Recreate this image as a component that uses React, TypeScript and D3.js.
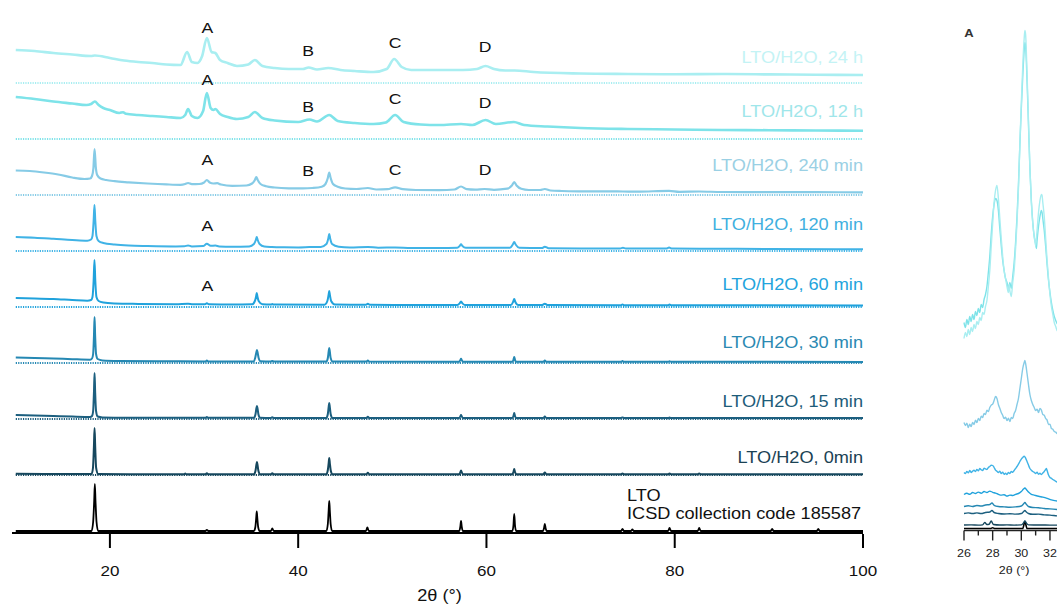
import React from 'react';
import * as d3 from 'd3';

type Pt = [number, number];

// ---------- axis ticks ----------
const xTicks = [20, 40, 60, 80, 100];
const insetTicks = [26, 27, 28, 29, 30, 31, 32, 33];
const insetTickLabels = [26, 28, 30, 32];

// ---------- sample names (bottom to top) ----------
const sampleNames = [
  'LTO',
  'LTO/H2O, 0min',
  'LTO/H2O, 15 min',
  'LTO/H2O, 30 min',
  'LTO/H2O, 60 min',
  'LTO/H2O, 120 min',
  'LTO/H2O, 240 min',
  'LTO/H2O, 12 h',
  'LTO/H2O, 24 h',
];
const refNote = 'ICSD collection code 185587';

// ---------- diffraction patterns: [2θ, intensity above own baseline] ----------
const ltoRef: Pt[] = [
  [10, 0], [18.05, 0], [18.22, 9], [18.33, 30], [18.4, 47], [18.47, 30], [18.58, 9], [18.75, 0],
  [30.15, 0], [30.3, 1.2], [30.45, 0],
  [35.3, 0], [35.45, 4], [35.54, 13], [35.6, 19.5], [35.66, 13], [35.75, 4], [35.9, 0],
  [37.1, 0], [37.25, 2.5], [37.4, 0],
  [43.0, 0], [43.15, 7], [43.24, 21], [43.3, 30], [43.36, 21], [43.45, 7], [43.6, 0],
  [47.2, 0], [47.35, 3.5], [47.5, 0],
  [57.1, 0], [57.22, 4], [57.3, 10], [57.38, 4], [57.5, 0],
  [62.75, 0], [62.87, 6], [62.95, 17], [63.03, 6], [63.15, 0],
  [66.0, 0], [66.12, 3], [66.2, 7], [66.28, 3], [66.4, 0],
  [74.3, 0], [74.45, 2], [74.6, 0],
  [75.35, 0], [75.5, 1.5], [75.65, 0],
  [79.3, 0], [79.45, 3], [79.6, 0],
  [82.45, 0], [82.6, 3], [82.75, 0],
  [90.2, 0], [90.35, 2], [90.5, 0],
  [95.1, 0], [95.25, 2], [95.4, 0],
  [100, 0],
];

const min0: Pt[] = [
  [10, 1.2], [13, 1], [16, 0.9], [18.05, 0.9], [18.2, 7], [18.3, 28], [18.37, 47], [18.44, 28], [18.54, 7], [18.75, 1],
  [22, 0.8], [27.9, 0.8], [28.0, 1.4], [28.1, 0.8], [30.15, 0.8], [30.3, 1.8], [30.45, 0.8],
  [35.3, 0.8], [35.46, 4], [35.55, 9.5], [35.62, 13], [35.69, 9.5], [35.78, 4], [35.95, 0.8],
  [37.1, 0.8], [37.25, 1.8], [37.4, 0.8],
  [43.0, 0.8], [43.15, 5], [43.24, 12], [43.3, 17], [43.36, 12], [43.45, 5], [43.62, 0.8],
  [47.25, 0.8], [47.4, 2.2], [47.55, 0.8],
  [57.1, 0.8], [57.22, 2.5], [57.3, 4.5], [57.38, 2.5], [57.5, 0.8],
  [62.75, 0.8], [62.87, 3], [62.95, 6], [63.03, 3], [63.15, 0.8],
  [66.05, 0.8], [66.2, 2.6], [66.35, 0.8],
  [74.3, 0.8], [74.45, 1.5], [74.6, 0.8],
  [79.3, 0.8], [79.45, 1.6], [79.6, 0.8],
  [82.45, 0.8], [82.6, 1.6], [82.75, 0.8],
  [100, 0.8],
];

const min15: Pt[] = [
  [10, 4], [12, 3.6], [14, 3], [16, 2.4], [17.9, 2], [18.1, 3], [18.22, 8], [18.31, 28], [18.37, 46], [18.43, 28], [18.53, 8], [18.7, 2.5],
  [19.2, 1.6], [22, 1.3], [28, 1.2], [30.15, 1.2], [30.3, 2], [30.45, 1.2],
  [35.3, 1.2], [35.46, 4.5], [35.55, 10], [35.62, 13], [35.69, 10], [35.78, 4.5], [35.95, 1.3],
  [37.1, 1.1], [37.25, 1.8], [37.4, 1.1],
  [43.0, 1.1], [43.15, 5], [43.24, 12], [43.3, 16], [43.36, 12], [43.45, 5], [43.62, 1.1],
  [47.25, 1], [47.4, 2.3], [47.55, 1],
  [57.1, 1], [57.22, 2.5], [57.3, 4], [57.38, 2.5], [57.5, 1],
  [62.75, 1], [62.87, 3], [62.95, 6], [63.03, 3], [63.15, 1],
  [66.05, 1], [66.2, 2.4], [66.35, 1],
  [74.3, 1], [74.45, 1.6], [74.6, 1],
  [79.3, 0.9], [79.45, 1.5], [79.6, 0.9],
  [100, 0.9],
];

const min30: Pt[] = [
  [10, 5.5], [12, 5], [14, 4.5], [16, 3.8], [17.9, 3.3], [18.1, 4.5], [18.22, 9], [18.31, 28], [18.37, 46], [18.43, 28], [18.53, 9], [18.7, 4],
  [19.2, 2.6], [21, 2], [25, 1.7], [30.15, 1.6], [30.3, 2.4], [30.45, 1.6],
  [35.25, 1.6], [35.43, 5], [35.54, 10], [35.62, 13], [35.7, 10], [35.8, 5], [36.0, 1.7],
  [37.1, 1.5], [37.25, 2.1], [37.4, 1.5],
  [43.0, 1.5], [43.15, 5], [43.24, 11.5], [43.3, 15], [43.36, 11.5], [43.45, 5], [43.65, 1.5],
  [47.25, 1.4], [47.4, 2.6], [47.55, 1.4],
  [57.1, 1.3], [57.22, 2.8], [57.3, 4.3], [57.38, 2.8], [57.5, 1.3],
  [62.75, 1.3], [62.87, 3.2], [62.95, 6], [63.03, 3.2], [63.15, 1.3],
  [66.05, 1.3], [66.2, 2.6], [66.35, 1.3],
  [74.3, 1.2], [74.45, 2], [74.6, 1.2],
  [79.3, 1.2], [79.45, 1.8], [79.6, 1.2],
  [100, 1.1],
];

const min60: Pt[] = [
  [10, 9], [12, 8.6], [14, 8], [16, 7], [17.6, 6.3], [18.0, 7], [18.15, 10], [18.27, 26], [18.36, 47], [18.45, 26], [18.57, 10], [18.8, 6],
  [19.3, 4.5], [20.5, 3.6], [23, 3.1], [27, 2.8], [28.3, 3.2], [28.8, 2.8], [30.1, 2.8], [30.3, 3.8], [30.5, 2.8], [33, 2.5],
  [35.1, 2.7], [35.4, 6], [35.53, 10.5], [35.6, 14], [35.67, 10.5], [35.8, 6], [36.2, 2.8],
  [37.1, 2.4], [37.25, 3], [37.4, 2.4],
  [42.8, 2.3], [43.1, 6], [43.23, 12], [43.3, 16], [43.37, 12], [43.5, 6], [43.9, 2.6],
  [47.2, 2.2], [47.4, 3.3], [47.6, 2.2], [50.3, 2.1],
  [56.9, 2], [57.15, 3.6], [57.3, 5.5], [57.45, 3.6], [57.7, 2.1],
  [62.6, 2], [62.82, 4.8], [62.95, 8], [63.08, 4.8], [63.35, 2.1],
  [65.9, 1.9], [66.2, 3.3], [66.5, 1.9],
  [74.3, 1.8], [74.45, 2.6], [74.6, 1.8],
  [79.3, 1.8], [79.45, 2.4], [79.6, 1.8],
  [100, 1.6],
];

const min120: Pt[] = [
  [10, 14], [12, 13.3], [14, 12.2], [16, 11], [17.6, 10.3], [18.0, 11.5], [18.15, 15], [18.27, 30], [18.36, 46], [18.45, 30], [18.57, 15], [18.8, 10],
  [19.3, 8], [20.5, 6.5], [22, 5.5], [24, 5], [27, 4.6], [27.9, 4.7], [28.3, 5.6], [28.7, 4.6], [29.9, 5], [30.3, 7.2], [30.7, 5.2],
  [31.2, 5.4], [31.6, 4.6], [33, 4.2], [34.8, 4.6],
  [35.3, 7], [35.5, 11], [35.6, 14], [35.7, 11], [35.9, 7], [36.4, 4.5],
  [37.2, 4], [38.5, 3.7], [40, 3.6], [41.2, 3.9], [42.4, 4.1],
  [43.0, 7], [43.2, 12.5], [43.3, 17], [43.4, 12.5], [43.6, 7], [44.3, 4.3],
  [45.5, 3.5], [47.4, 4], [48.5, 3.3], [50.3, 3.6], [52, 3], [55, 3],
  [56.9, 3.2], [57.15, 5], [57.3, 6.7], [57.45, 5], [57.8, 3.2], [59.7, 3.3],
  [62.5, 3.3], [62.78, 6.2], [62.95, 9], [63.12, 6.2], [63.5, 3.2],
  [65.9, 2.9], [66.2, 4.3], [66.6, 2.8], [70, 2.6], [74.2, 2.6], [74.5, 3.2], [74.8, 2.6],
  [79.1, 2.4], [79.4, 3.4], [79.7, 2.4], [82.6, 2.3], [90, 2], [100, 1.8],
];

const min240: Pt[] = [
  [10, 24.5], [11.5, 24], [13, 22.5], [14.5, 20.5], [16, 17.5], [17.3, 16], [17.9, 16.5], [18.1, 19], [18.25, 27], [18.37, 46], [18.5, 28], [18.65, 20],
  [19, 16.5], [19.6, 15], [20.5, 13.8], [22, 12.7], [24, 11.5], [26, 10.6], [27.5, 10.2], [28.0, 11], [28.3, 12], [28.7, 10.8],
  [29.5, 11], [30.0, 12.5], [30.3, 15], [30.6, 12.5], [31.0, 11.5], [31.4, 11.8], [31.8, 10.5], [33, 9.2], [34.5, 9.5],
  [35.1, 11.5], [35.4, 15], [35.55, 18], [35.7, 15], [36.0, 11], [36.6, 8.8], [37.5, 7.5], [39, 6.7], [40.5, 6.6], [41.5, 7], [42.5, 8.3],
  [42.9, 11], [43.15, 17], [43.3, 22.5], [43.45, 17], [43.7, 11], [44.2, 8.3], [45, 6.5], [46.2, 6], [47.4, 7], [48.3, 5.5],
  [49.5, 5.8], [50.3, 7.7], [51.1, 5.8], [52.5, 5], [55, 4.8], [56.6, 5.5], [57.3, 8.5], [57.9, 5.8], [58.8, 5.3], [59.8, 6],
  [60.8, 5.2], [62.2, 6.3], [62.7, 9.5], [62.95, 13], [63.2, 9.5], [63.7, 6.2], [64.5, 5], [65.7, 5], [66.2, 6], [66.8, 4.5],
  [68, 4], [70, 3.7], [74.5, 3.5], [76, 3.3], [79.4, 4.2], [80.5, 3.2], [82.6, 3.5], [85, 3], [90, 2.9], [95, 2.8], [100, 2.7],
];

const h12: Pt[] = [
  [10, 42], [12, 40], [14, 37.5], [16, 35.5], [17.5, 34], [18.0, 35], [18.4, 37.5], [18.8, 34], [19.3, 31], [20, 29],
  [21.0, 26], [21.4, 26.8], [21.7, 25.2], [23, 24], [24.5, 23], [26, 22], [27.5, 21], [28.0, 24], [28.3, 30], [28.7, 23],
  [29.3, 21], [29.9, 28], [30.3, 46], [30.7, 31], [31.0, 29], [31.2, 30], [31.7, 25], [32.5, 22], [33.5, 20], [34.7, 22],
  [35.4, 27], [36.2, 21], [37.5, 18.5], [40, 17], [41.2, 19.5], [42, 17.5], [43.3, 24], [44.2, 18], [46, 16], [48, 15],
  [49.3, 16.5], [50.3, 24], [51.2, 17], [53, 14.5], [55, 14], [57.3, 15], [58.5, 14], [59.9, 19], [61, 15], [62.9, 17],
  [64, 14], [66.5, 12.5], [70, 11], [75, 10], [80, 9.5], [85, 9], [90, 8.8], [95, 8.5], [100, 8.3],
];

const h24: Pt[] = [
  [10, 33], [12, 32], [14, 30], [16, 28.5], [18, 27], [18.4, 27.5], [20, 25], [21.5, 22.5], [23, 21], [24.5, 20],
  [26, 18.5], [27.5, 18], [28.2, 31], [28.7, 21], [29.3, 20], [29.8, 27], [30.3, 45], [30.8, 31], [31.2, 30], [31.7, 23],
  [32.5, 20], [33.5, 17], [34.7, 18.5], [35.4, 23], [36.2, 17], [37.5, 15], [39, 14], [40.5, 14], [41.1, 15.5], [42, 13.5],
  [43.2, 15], [44.5, 13], [46, 12], [48, 11], [49.4, 14], [50.2, 24], [51, 16], [52, 13], [54, 13], [56, 13],
  [57.5, 13], [59, 14], [59.9, 17], [60.8, 14], [62, 12.5], [63, 12.5], [65, 11], [70, 9.5], [75, 9], [80, 8.7],
  [85, 9], [90, 8.6], [95, 8.3], [100, 8],
];

const patterns: Pt[][] = [ltoRef, min0, min15, min30, min60, min120, min240, h12, h24];

// ---------- phase markers ----------
const markerLetters = ['A', 'B', 'C', 'D'];
const markerAngles = [30.35, 41.05, 50.3, 59.85];
// which stacked curves carry which markers
const markerRows: { row: number; letters: string[] }[] = [
  { row: 8, letters: ['A', 'B', 'C', 'D'] },
  { row: 7, letters: ['A', 'B', 'C', 'D'] },
  { row: 6, letters: ['A', 'B', 'C', 'D'] },
  { row: 5, letters: ['A'] },
  { row: 4, letters: ['A'] },
];

// ---------- zoomed region 26–33° (stacked intensities) ----------
const zLTO: Pt[] = [[26, 0], [27.85, 0], [28.0, 0.8], [28.15, 0], [30.1, 0], [30.25, 7], [30.4, 0], [33, 0]];
const z0: Pt[] = [
  [26.0, 3.5], [26.5, 3.6], [27.0, 3.4], [27.3, 3.6], [27.45, 6], [27.6, 4], [27.75, 4.2], [27.9, 7.5], [28.05, 4],
  [28.5, 3.5], [29, 3.6], [29.5, 3.4], [30.0, 3.6], [30.15, 5.5], [30.25, 7.5], [30.35, 5.5], [30.5, 3.6], [31, 3.5], [32, 3.4], [33, 3.3],
];
const z15: Pt[] = [
  [26.0, 15], [26.3, 15.6], [26.6, 15], [26.9, 15.6], [27.2, 15], [27.5, 16], [27.8, 16.5], [27.95, 18], [28.1, 16], [28.4, 15],
  [28.8, 14.5], [29.2, 14.8], [29.6, 14.4], [30.0, 15], [30.15, 16.8], [30.25, 18], [30.35, 16.5], [30.5, 15], [30.8, 14.2],
  [31.2, 14.4], [31.6, 13.6], [32.0, 13.4], [32.5, 12.6], [33, 12.2],
];
const z30: Pt[] = [
  [26.0, 22], [26.3, 22.8], [26.6, 22], [26.9, 23], [27.2, 22.5], [27.5, 23.5], [27.8, 24], [27.95, 25.5], [28.1, 23.2], [28.4, 22],
  [28.8, 21.6], [29.2, 21.2], [29.6, 21.6], [30.0, 22.5], [30.15, 24.5], [30.25, 26], [30.35, 24.2], [30.5, 22], [30.8, 21],
  [31.2, 20.8], [31.6, 20], [32.0, 19.6], [32.5, 19], [33, 18.5],
];
const z60: Pt[] = [
  [26.0, 34], [26.2, 35.2], [26.4, 34.2], [26.6, 36], [26.8, 35], [27.0, 36.4], [27.2, 35.2], [27.4, 37], [27.6, 36], [27.8, 37.4],
  [28.0, 36.2], [28.2, 35.4], [28.4, 34.2], [28.6, 33.4], [28.8, 33.8], [29.0, 32.4], [29.2, 33.4], [29.4, 33], [29.6, 34.2],
  [29.8, 35], [30.0, 37], [30.15, 39.4], [30.25, 40.5], [30.35, 39], [30.5, 36.4], [30.7, 34.2], [30.9, 33.4], [31.2, 32.2],
  [31.5, 31.4], [31.8, 30.2], [32.1, 28.6], [32.5, 27.4], [33, 26.4],
];
const z120: Pt[] = [
  [26.0, 56], [26.1, 55], [26.2, 57], [26.3, 55.6], [26.4, 58], [26.5, 56], [26.6, 57.4], [26.7, 58.2], [26.8, 57], [26.9, 59],
  [27.0, 57.6], [27.1, 60], [27.2, 58.8], [27.3, 58], [27.4, 60.2], [27.5, 59.6], [27.6, 59], [27.7, 61], [27.8, 62], [27.9, 63.4],
  [28.0, 63], [28.1, 61], [28.2, 58.4], [28.3, 57.2], [28.4, 56], [28.5, 57.2], [28.6, 55], [28.7, 56.2], [28.8, 54.2], [28.9, 55.4],
  [29.0, 54], [29.1, 56], [29.2, 55], [29.3, 57], [29.4, 56.2], [29.5, 58], [29.6, 60], [29.7, 62], [29.8, 64.4], [29.9, 67],
  [30.0, 69.4], [30.1, 71], [30.2, 72.4], [30.3, 70.4], [30.4, 67], [30.5, 63.4], [30.6, 60], [30.7, 58.2], [30.8, 57], [30.9, 56.2],
  [31.0, 55], [31.1, 56.2], [31.2, 54.2], [31.3, 55.2], [31.4, 54], [31.5, 55.4], [31.6, 57], [31.7, 59], [31.75, 60], [31.8, 58],
  [31.9, 53.4], [32.0, 51], [32.1, 50.2], [32.2, 49], [32.3, 48.2], [32.4, 47.2], [32.5, 46.4], [33, 45],
];
const z240: Pt[] = [
  [26.0, 106], [26.1, 103], [26.2, 105.4], [26.3, 101], [26.4, 104.2], [26.5, 102], [26.6, 106], [26.7, 104], [26.8, 108.2], [26.9, 106],
  [27.0, 110], [27.1, 108], [27.2, 112.4], [27.3, 111], [27.4, 115], [27.5, 114], [27.6, 118.2], [27.7, 117], [27.8, 121], [27.9, 123.4],
  [28.0, 124.4], [28.1, 128], [28.2, 132], [28.3, 130], [28.4, 124], [28.5, 120.2], [28.6, 116], [28.7, 113.2], [28.8, 110], [28.9, 111.4],
  [29.0, 108], [29.1, 110.2], [29.2, 107], [29.3, 111], [29.4, 110], [29.5, 115], [29.6, 118], [29.7, 124], [29.8, 130], [29.9, 140],
  [30.0, 150], [30.1, 160], [30.2, 166], [30.25, 168], [30.3, 165], [30.4, 155], [30.5, 144], [30.6, 134], [30.7, 128], [30.8, 124],
  [30.9, 121], [31.0, 118], [31.1, 119.4], [31.2, 116], [31.3, 120], [31.4, 118.4], [31.5, 114], [31.6, 113.2], [31.7, 110], [31.8, 108.4],
  [31.9, 104], [32.0, 104.4], [32.1, 100], [32.2, 99.2], [32.3, 97], [32.4, 96.4], [32.5, 95], [33, 94],
];
const z12h: Pt[] = [
  [26.0, 206], [26.1, 201], [26.2, 209], [26.3, 204], [26.4, 212], [26.5, 207], [26.6, 214], [26.7, 209], [26.8, 217], [26.9, 213],
  [27.0, 220], [27.1, 216], [27.2, 224], [27.3, 221], [27.4, 229], [27.5, 234], [27.6, 242], [27.7, 256], [27.8, 272], [27.9, 294],
  [28.0, 312], [28.1, 324], [28.2, 330], [28.3, 328], [28.4, 318], [28.5, 300], [28.6, 283], [28.7, 268], [28.8, 258], [28.9, 250],
  [29.0, 246], [29.1, 240], [29.2, 246], [29.3, 240], [29.4, 252], [29.5, 266], [29.6, 286], [29.7, 312], [29.8, 344], [29.9, 384],
  [30.0, 420], [30.1, 452], [30.2, 478], [30.25, 486], [30.3, 482], [30.4, 448], [30.5, 404], [30.6, 360], [30.7, 328], [30.8, 306],
  [30.9, 292], [31.0, 285], [31.05, 280], [31.1, 288], [31.2, 302], [31.3, 312], [31.4, 318], [31.45, 316], [31.5, 310], [31.6, 298],
  [31.7, 282], [31.8, 264], [31.9, 248], [32.0, 236], [32.1, 226], [32.2, 218], [32.3, 212], [32.4, 208], [32.5, 205], [32.7, 203], [33.0, 200],
];
const z24h: Pt[] = [
  [26.0, 190], [26.1, 196], [26.2, 192], [26.3, 199], [26.4, 194], [26.5, 201], [26.6, 197], [26.7, 204], [26.8, 200], [26.9, 207],
  [27.0, 204], [27.1, 211], [27.2, 208], [27.3, 216], [27.4, 214], [27.5, 222], [27.6, 228], [27.7, 242], [27.8, 258], [27.9, 282],
  [28.0, 305], [28.1, 326], [28.2, 338], [28.3, 343], [28.4, 330], [28.5, 310], [28.6, 290], [28.7, 272], [28.8, 258], [28.9, 250],
  [29.0, 242], [29.1, 236], [29.15, 244], [29.2, 238], [29.3, 232], [29.4, 246], [29.5, 258], [29.6, 280], [29.7, 306], [29.8, 340],
  [29.9, 385], [30.0, 425], [30.1, 462], [30.2, 490], [30.25, 498], [30.3, 494], [30.4, 455], [30.5, 408], [30.6, 360], [30.7, 326],
  [30.8, 305], [30.9, 292], [31.0, 283], [31.05, 290], [31.1, 298], [31.2, 316], [31.3, 328], [31.4, 334], [31.45, 333], [31.5, 326],
  [31.6, 312], [31.7, 290], [31.8, 268], [31.9, 250], [32.0, 234], [32.1, 222], [32.2, 214], [32.3, 206], [32.4, 202], [32.5, 198], [32.7, 196], [33.0, 193],
];
const zoomPatterns: Pt[][] = [zLTO, z0, z15, z30, z60, z120, z240, z12h, z24h];

// ---------- styling ----------
const lineColors = ['#000000', '#16475d', '#1c5f7f', '#2588b3', '#20a2dc', '#40b3e6', '#86cbe6', '#7ee3e9', '#a9eef1'];
const labelColors = ['#111111', '#1a4254', '#1d5c79', '#2a89b2', '#22a4dd', '#3fb0e0', '#9ad0e4', '#9fe6ea', '#c4f3f5'];
const lineWidths = [1.8, 2, 2, 2, 2, 2, 2.2, 2.6, 2.6];
const labelLift = [0, 12, 12.5, 15, 17, 21, 24, 22.3, 20];
const markerLift: Record<number, number[]> = {
  8: [49.7, 27, 35, 31.5],
  7: [54, 27.5, 34.7, 31],
  6: [30, 19.5, 20, 20],
  5: [20.5],
  4: [16.5],
};
const FONT = '"Liberation Sans", Arial, Helvetica, sans-serif';
const SX = 1.135;
const STEP = 56;

function Label(props: {
  x: number; y: number; size: number; fill: string; anchor?: 'start' | 'middle' | 'end'; weight?: number; children: React.ReactNode;
}) {
  const { x, y, size, fill, anchor = 'start', weight = 400, children } = props;
  return (
    <text
      transform={`translate(${x},${y}) scale(${SX},1)`}
      textAnchor={anchor}
      fontSize={size}
      fontWeight={weight}
      fill={fill}
      fontFamily={FONT}
    >
      {children}
    </text>
  );
}

export default function App() {
  const x = d3.scaleLinear().domain([9.6, 100]).range([12, 863]);
  const y = d3.scaleLinear().domain([0, 500]).range([531, 31]);
  const axisY = y(0) + 2;

  const xi = d3.scaleLinear().domain([26, 33]).range([964, 1064.3]);
  const yi = d3.scaleLinear().domain([0, 500]).range([528.5, 28.5]);
  const insetAxisY = yi(0) + 2;

  const mainLine = (offset: number) =>
    d3.line<Pt>().x((d) => x(d[0])).y((d) => y(d[1] + offset)).curve(d3.curveMonotoneX);
  const zoomLine = d3.line<Pt>().x((d) => xi(d[0])).y((d) => yi(d[1])).curve(d3.curveMonotoneX);

  return (
    <svg
      width={1057}
      height={610}
      style={{ position: 'absolute', left: 0, top: 0, background: '#ffffff' }}
    >
      <rect x={0} y={0} width={1057} height={610} fill="#ffffff" />

      {/* dotted zero lines of the stacked sample curves */}
      {patterns.map((_, i) =>
        i === 0 ? null : (
          <line
            key={`base-${i}`}
            x1={x(10)}
            x2={x(100)}
            y1={y(i * STEP)}
            y2={y(i * STEP)}
            stroke={lineColors[i]}
            strokeWidth={1.8}
            strokeDasharray="1.2 1.2"
          />
        )
      )}

      {/* stacked patterns */}
      {patterns.map((p, i) => (
        <path
          key={`pat-${i}`}
          d={mainLine(i * STEP)(p) || ''}
          fill="none"
          stroke={lineColors[i]}
          strokeWidth={lineWidths[i]}
          strokeLinejoin="round"
        />
      ))}

      {/* sample labels */}
      {sampleNames.map((name, i) =>
        i === 0 ? null : (
          <Label key={`lab-${i}`} x={x(100)} y={y(i * STEP) - labelLift[i]} size={16} fill={labelColors[i]} anchor="end">
            {name}
          </Label>
        )
      )}
      <Label x={627} y={500.5} size={16} fill={labelColors[0]}>{sampleNames[0]}</Label>
      <Label x={627} y={518.5} size={16} fill={labelColors[0]}>{refNote}</Label>

      {/* phase markers */}
      {markerRows.map(({ row, letters }) =>
        letters.map((letter, k) => {
          const idx = markerLetters.indexOf(letter);
          return (
            <Label
              key={`m-${row}-${letter}`}
              x={x(markerAngles[idx])}
              y={y(row * STEP) - markerLift[row][k]}
              size={15.5}
              fill="#111111"
              anchor="middle"
            >
              {letter}
            </Label>
          );
        })
      )}

      {/* main 2θ axis */}
      <line x1={x(9.6)} x2={x(100)} y1={axisY} y2={axisY} stroke="#000" strokeWidth={2} />
      {xTicks.map((t) => (
        <g key={`xt-${t}`}>
          <line x1={x(t)} x2={x(t)} y1={axisY + 1} y2={axisY + 15} stroke="#000" strokeWidth={2} />
          <Label x={x(t)} y={575.5} size={15} fill="#111" anchor="middle">{String(t)}</Label>
        </g>
      ))}
      <Label x={(x(9.6) + x(100)) / 2 + 2} y={601} size={16} fill="#111" anchor="middle">2θ (°)</Label>

      {/* zoomed 26–33° panel */}
      {zoomPatterns.map((p, i) => (
        <path
          key={`z-${i}`}
          d={zoomLine(p) || ''}
          fill="none"
          stroke={lineColors[i]}
          strokeWidth={i === 0 ? 1.6 : 1.4}
          strokeLinejoin="round"
        />
      ))}
      <line x1={xi(26)} x2={xi(33)} y1={insetAxisY} y2={insetAxisY} stroke="#222" strokeWidth={1.6} />
      {insetTicks.map((t) => (
        <line
          key={`it-${t}`}
          x1={xi(t)}
          x2={xi(t)}
          y1={insetAxisY}
          y2={insetAxisY + (t % 2 === 0 ? 10 : 5)}
          stroke="#222"
          strokeWidth={1.4}
        />
      ))}
      {insetTickLabels.map((t) => (
        <Label key={`itl-${t}`} x={xi(t)} y={556.5} size={11} fill="#222" anchor="middle">{String(t)}</Label>
      ))}
      <Label x={xi(29.5)} y={574} size={11} fill="#222" anchor="middle">2θ (°)</Label>
      <Label x={969} y={37} size={11.5} fill="#333" anchor="middle" weight={700}>A</Label>
    </svg>
  );
}
